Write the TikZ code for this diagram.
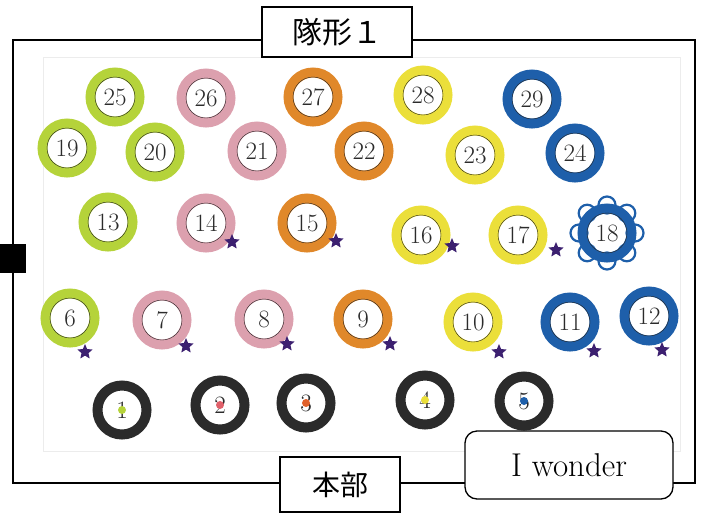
\documentclass[tikz,border=0pt]{standalone}
\usepackage{fontspec}
\newfontfamily\jpfont{Noto Sans CJK JP}
\usetikzlibrary{shapes.geometric}
\definecolor{lime}{HTML}{B5D33A}
\definecolor{pinkish}{HTML}{DCA0AE}
\definecolor{orangeish}{HTML}{E0882A}
\definecolor{yellowish}{HTML}{EBDF3A}
\definecolor{blueish}{HTML}{1E5FAA}
\definecolor{ink}{HTML}{2B2B2B}
\definecolor{starpurple}{HTML}{3C2070}
\definecolor{dotred}{HTML}{E0606A}
\definecolor{dotorange}{HTML}{E0602A}
\tikzset{
  ring/.style={circle, draw=#1, line width=10pt, minimum size=49pt, inner sep=0pt,
    text=ink, font=\fontsize{25}{25}\selectfont},
  blackring/.style={ring=ink, line width=10pt},
  starmark/.style={star, star points=5, star point ratio=2.2, fill=starpurple,
    minimum size=16pt, inner sep=0pt},
  labelbox/.style={draw, line width=1.3pt, fill=white, inner sep=0pt},
}
\begin{document}
\begin{tikzpicture}[x=1pt,y=-1pt]
  \useasboundingbox (0,0) rectangle (704,515);
  \draw[gray!15] (43,57) rectangle (680,451); % photo
  \draw[line width=1.5pt] (13,40) rectangle (695,483);
  \node[fill=black, minimum width=26pt, minimum height=29pt, inner sep=0pt] (door) at (13,258.5) {};
  % flower round 18
  \foreach \a in {0,45,...,315}
    \draw[blueish, line width=2.2pt] (607,233) ++(\a:28) circle (8.5);
  % coloured rings
  \foreach \n/\x/\y/\c in {25/115/97/lime, 26/206/98/pinkish, 27/313/97/orangeish,
      28/423/95/yellowish, 29/532/99/blueish,
      19/67/148/lime, 20/155/152/lime, 21/257/151/pinkish, 22/364/151/orangeish,
      23/475/155/yellowish, 24/575/153/blueish,
      13/108/222/lime, 14/206/223/pinkish, 15/307/223/orangeish, 16/421/235/yellowish,
      17/518/235/yellowish, 18/607/233/blueish,
      6/70/318/lime, 7/162/320/pinkish, 8/264/319/pinkish, 9/363/319/orangeish,
      10/473/322/yellowish, 11/570/322/blueish, 12/649/316/blueish} {
    \node[ring=\c] (p\n) at (\x,\y) {\n};
    \draw[ink, thin] (p\n) circle (20);
  }
  % black rings
  \foreach \n/\x/\y/\c in {1/122/410/lime, 2/220/405/dotred, 3/306/403/dotorange,
      4/425/400/yellowish, 5/524/401/blueish} {
    \node[blackring] (p\n) at (\x,\y) {\n};
    \fill[\c] (p\n) circle (4);
  }
  % stars
  \foreach \n/\x/\y in {14/232/242, 15/336/241, 16/452/246, 17/556/250,
      6/85/352, 7/186/346, 8/287/344, 9/390/344, 10/499/352, 11/594/351, 12/662/350}
    \node[starmark] (s\n) at (\x,\y) {};
  % labels
  \node[labelbox, minimum width=150pt, minimum height=50pt, font=\jpfont\fontsize{30}{30}\selectfont]
    (title) at (337,32) {隊形１};
  \node[labelbox, minimum width=120pt, minimum height=55pt, font=\jpfont\fontsize{28}{28}\selectfont]
    (hq) at (340,484.5) {本部};
  \node[labelbox, rounded corners=12pt, minimum width=208pt, minimum height=68pt,
    font=\fontsize{33}{33}\selectfont] (wonder) at (569,465) {I wonder};
\end{tikzpicture}
\end{document}
